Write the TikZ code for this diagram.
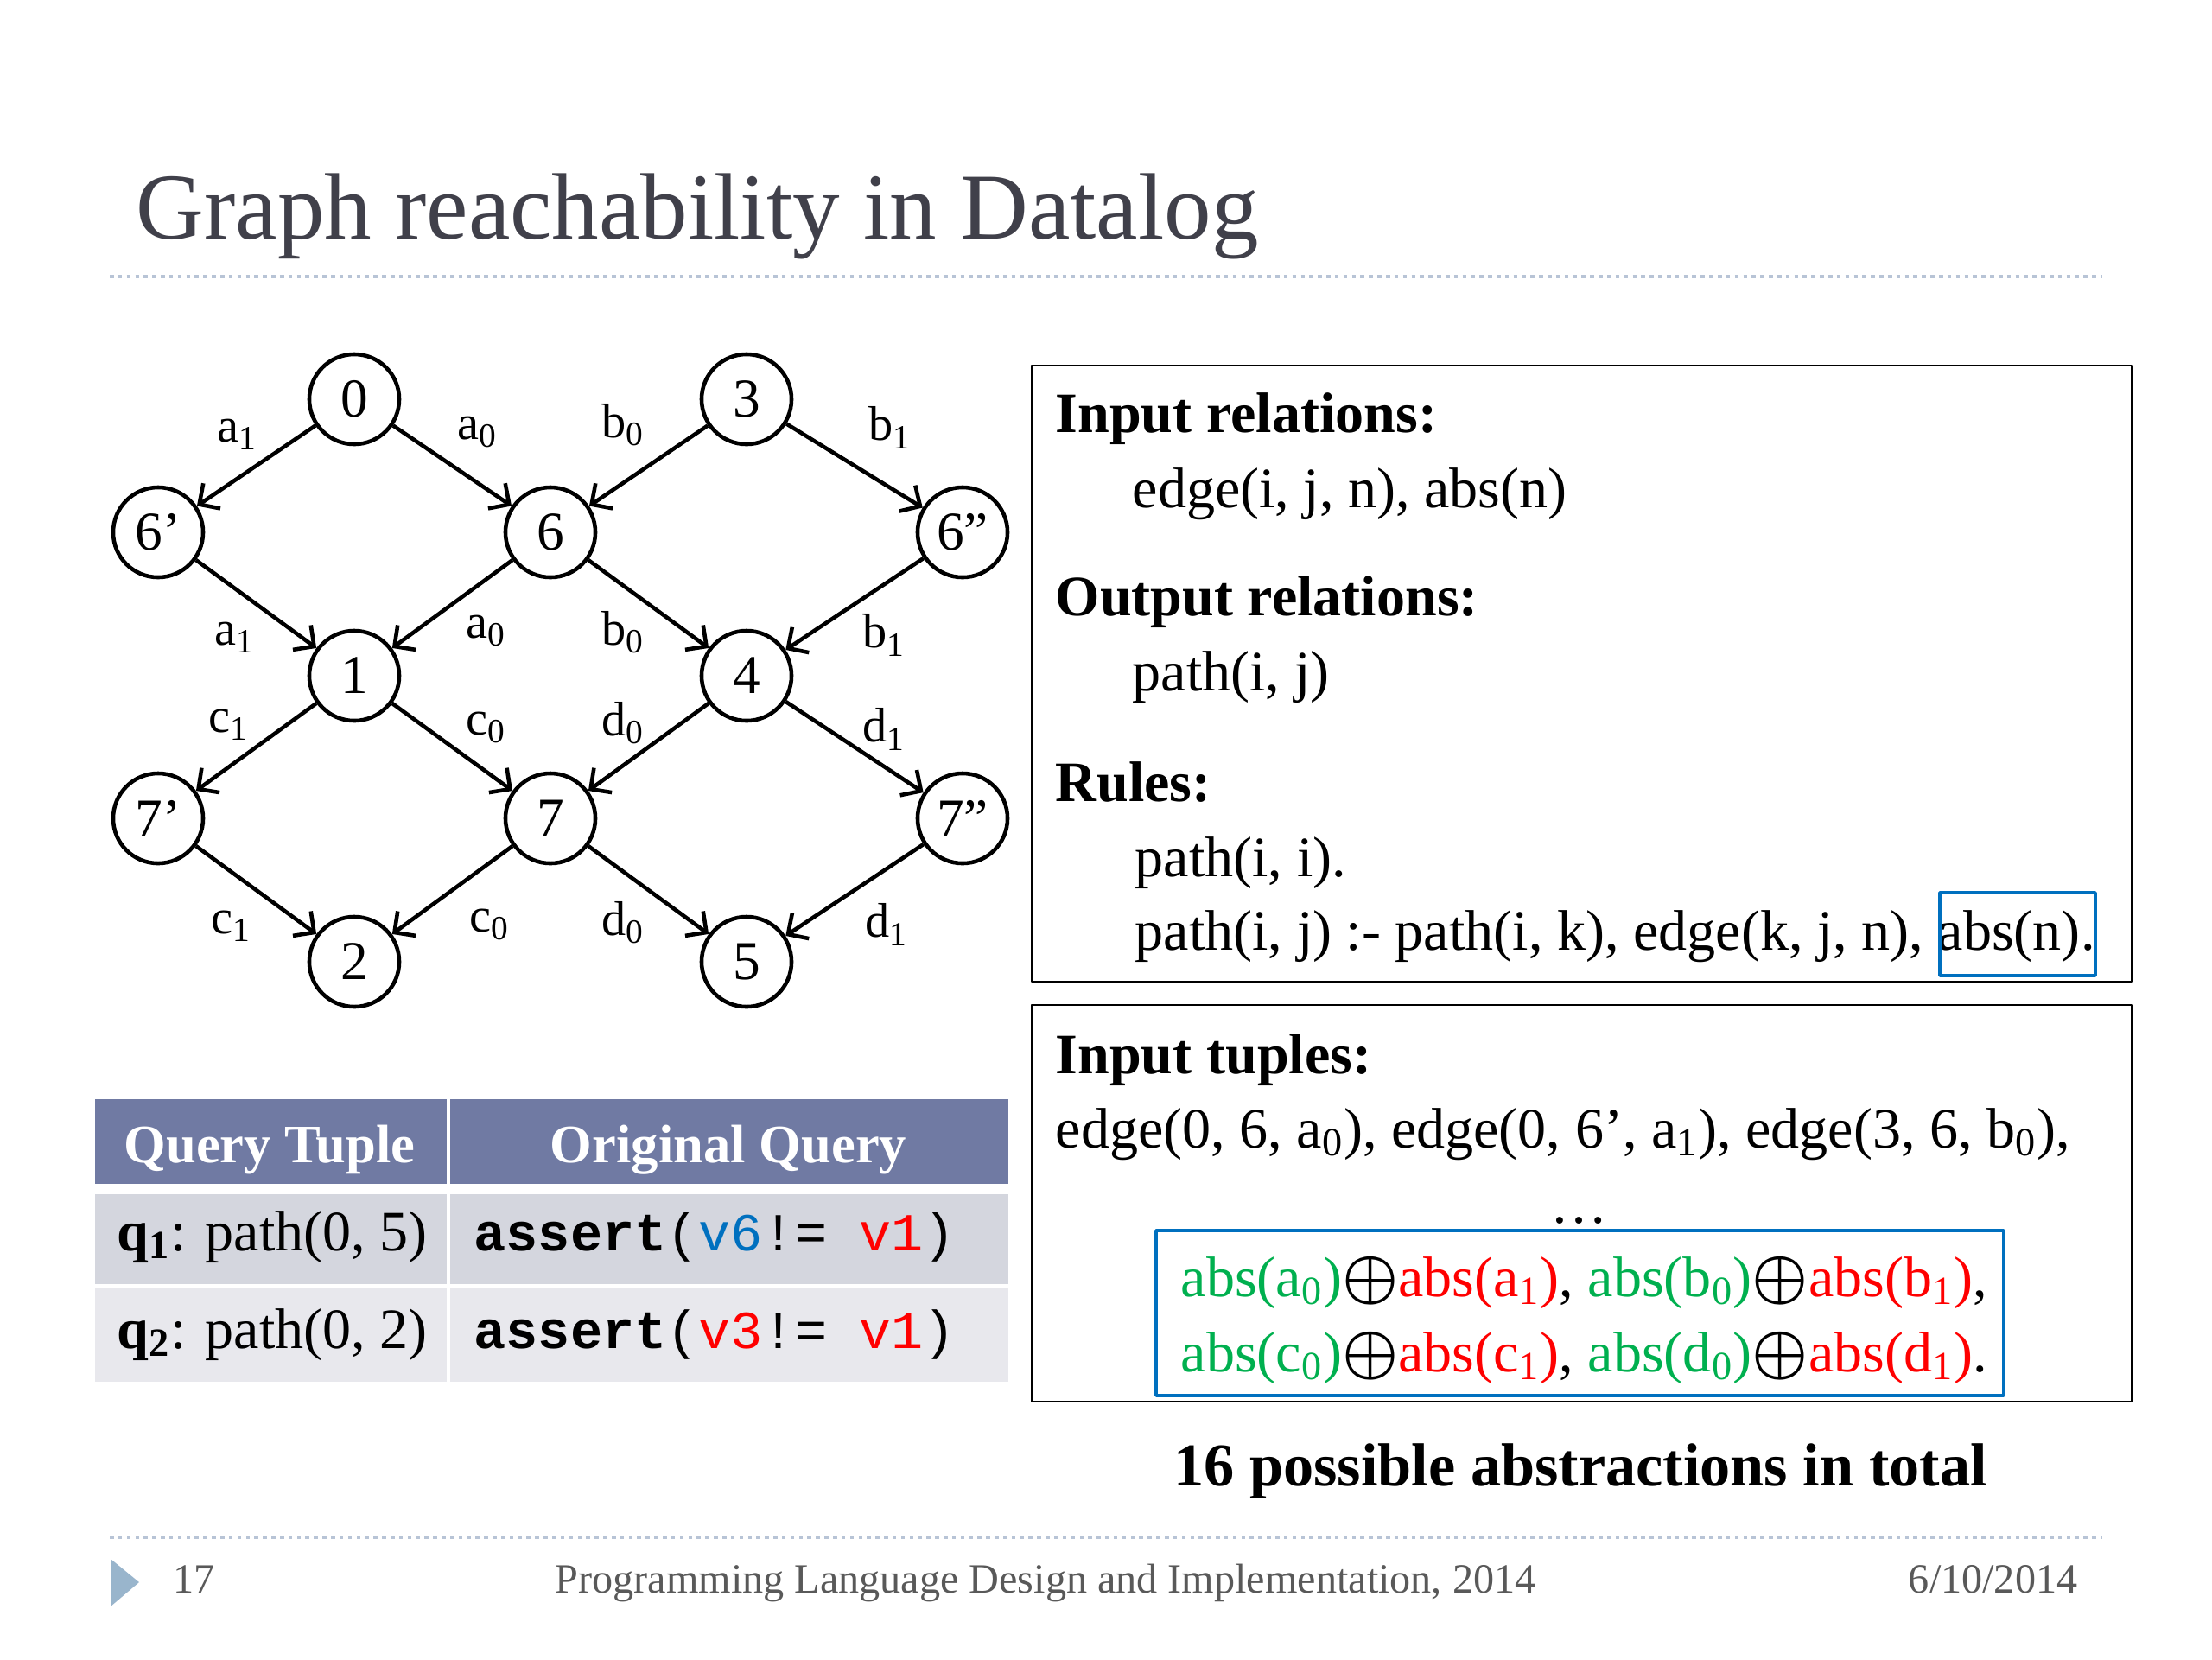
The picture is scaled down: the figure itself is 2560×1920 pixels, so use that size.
\documentclass[tikz,border=0pt]{standalone}
\usepackage{fontspec}
\setmainfont{Liberation Serif}
\setmonofont{Liberation Mono}
\usetikzlibrary{arrows.meta}

\definecolor{titlegray}{rgb}{0.25,0.25,0.29}
\definecolor{dotblue}{rgb}{0.72,0.77,0.84}
\definecolor{headblue}{rgb}{0.44,0.48,0.64}
\definecolor{rowone}{rgb}{0.83,0.84,0.87}
\definecolor{rowtwo}{rgb}{0.91,0.91,0.93}
\definecolor{absgreen}{rgb}{0.0,0.69,0.31}
\definecolor{absred}{rgb}{1.0,0.0,0.0}
\definecolor{boxblue}{rgb}{0.0,0.44,0.75}
\definecolor{footgray}{rgb}{0.35,0.35,0.35}
\definecolor{tribl}{rgb}{0.6,0.71,0.8}

\newcommand{\ssub}[1]{\textsubscript{#1}}
\newcommand{\gabs}[2]{\textcolor{absgreen}{abs(#1\ssub{#2})}}
\newcommand{\rabs}[2]{\textcolor{absred}{abs(#1\ssub{#2})}}
\newcommand{\xor}{{\fontsize{21.5}{22}\selectfont\boldmath$\oplus$}}

\tikzset{
  vertex/.style={circle,draw,line width=1.3pt,minimum size=1.04cm,inner sep=0pt,
    font=\fontsize{18}{20}\selectfont},
  elabel/.style={inner sep=0pt,font=\fontsize{16}{18}\selectfont},
  arc/.style={->,line width=1.3pt},
  txt/.style={anchor=base west,inner sep=0pt,font=\fontsize{18.8}{22}\selectfont},
  hdr/.style={txt,font=\fontsize{18.8}{22}\selectfont\bfseries},
  codetxt/.style={anchor=base west,inner sep=0pt,font=\fontsize{17.6}{20}\selectfont\ttfamily},
  headtxt/.style={anchor=base,inner sep=0pt,text=white,font=\fontsize{17.8}{20}\selectfont\bfseries},
  foot/.style={inner sep=0pt,text=footgray,font=\fontsize{13.7}{16}\selectfont},
  dotline/.style={dotblue,line width=1.4pt,dash pattern=on 1.3pt off 1.5pt},
  frame/.style={draw,line width=0.8pt},
  absbox/.style={draw=boxblue,line width=1.4pt},
}

\begin{document}
\begin{tikzpicture}[x=0.01cm,y=-0.01cm,>={Straight Barb[length=5pt,width=10pt]},line join=bevel]
  \fill[white] (0,0) rectangle (2560,1920);
%%
  % Title
  \node[anchor=base west,inner sep=0pt,text=titlegray,font=\fontsize{31}{36}\selectfont]
    (title) at (157,276) {Graph reachability in Datalog};
  \draw[dotline] (127,320) -- (2433,320);
%%
  % Nodes
  \node[vertex] (n0) at (410,462) {0};
  \node[vertex] (n3) at (864,462) {3};
  \node[vertex] (n6a) at (183,616) {6’};
  \node[vertex] (n6) at (637,616) {6};
  \node[vertex] (n6b) at (1114,616) {6”};
  \node[vertex] (n1) at (410,782) {1};
  \node[vertex] (n4) at (864,782) {4};
  \node[vertex] (n7a) at (183,947) {7’};
  \node[vertex] (n7) at (637,947) {7};
  \node[vertex] (n7b) at (1114,947) {7”};
  \node[vertex] (n2) at (410,1113) {2};
  \node[vertex] (n5) at (864,1113) {5};
  % Edges
  \draw[arc] (n0) -- (n6a);
  \draw[arc] (n0) -- (n6);
  \draw[arc] (n3) -- (n6);
  \draw[arc] (n3) -- (n6b);
  \draw[arc] (n6a) -- (n1);
  \draw[arc] (n6) -- (n1);
  \draw[arc] (n6) -- (n4);
  \draw[arc] (n6b) -- (n4);
  \draw[arc] (n1) -- (n7a);
  \draw[arc] (n1) -- (n7);
  \draw[arc] (n4) -- (n7);
  \draw[arc] (n4) -- (n7b);
  \draw[arc] (n7a) -- (n2);
  \draw[arc] (n7) -- (n2);
  \draw[arc] (n7) -- (n5);
  \draw[arc] (n7b) -- (n5);
  % Edge labels
  \node[elabel] (la1) at (275,503) {a\ssub{1}};
  \node[elabel] (la0) at (553,500) {a\ssub{0}};
  \node[elabel] (lb0) at (721,492) {b\ssub{0}};
  \node[elabel] (lb1) at (1030,495) {b\ssub{1}};
  \node[elabel] (la1b) at (272,738) {a\ssub{1}};
  \node[elabel] (la0b) at (563,730) {a\ssub{0}};
  \node[elabel] (lb0b) at (721,732) {b\ssub{0}};
  \node[elabel] (lb1b) at (1023,735) {b\ssub{1}};
  \node[elabel] (lc1) at (265,839) {c\ssub{1}};
  \node[elabel] (lc0) at (563,842) {c\ssub{0}};
  \node[elabel] (ld0) at (721,837) {d\ssub{0}};
  \node[elabel] (ld1) at (1023,844) {d\ssub{1}};
  \node[elabel] (lc1b) at (268,1072) {c\ssub{1}};
  \node[elabel] (lc0b) at (567,1070) {c\ssub{0}};
  \node[elabel] (ld0b) at (721,1068) {d\ssub{0}};
  \node[elabel] (ld1b) at (1026,1070) {d\ssub{1}};
%%
  % Query table
  \fill[headblue] (110,1272) rectangle (517,1370);
  \fill[headblue] (521,1272) rectangle (1167,1370);
  \fill[rowone] (110,1382) rectangle (517,1486);
  \fill[rowone] (521,1382) rectangle (1167,1486);
  \fill[rowtwo] (110,1491) rectangle (517,1599);
  \fill[rowtwo] (521,1491) rectangle (1167,1599);
  \node[headtxt] (qhead) at (312,1345) {Query Tuple};
  \node[headtxt] (ohead) at (843,1345) {Original Query};
  \node[txt] (q1) at (135,1447) {\textbf{q\ssub{1}}: path(0, 5)};
  \node[txt] (q2) at (135,1560) {\textbf{q\ssub{2}}: path(0, 2)};
  \node[codetxt] (qa1) at (548,1447)
    {\textbf{assert}(\textcolor{boxblue}{v6}!= \textcolor{absred}{v1})};
  \node[codetxt] (qa2) at (548,1560)
    {\textbf{assert}(\textcolor{absred}{v3}!= \textcolor{absred}{v1})};
%%
  % Relations box
  \draw[frame] (1194,423) rectangle (2467,1136);
  \node[hdr] (inrel) at (1221,500) {Input relations:};
  \node[txt] (inreltxt) at (1310,587) {edge(i, j, n), abs(n)};
  \node[hdr] (outrel) at (1221,712) {Output relations:};
  \node[txt] (outreltxt) at (1310,799) {path(i, j)};
  \node[hdr] (rules) at (1221,927) {Rules:};
  \node[txt] (rule1) at (1313,1014) {path(i, i).};
  \node[txt] (rule2) at (1313,1099) {path(i, j) :- path(i, k), edge(k, j, n), abs(n).};
  \draw[absbox] (2245,1033) rectangle (2425,1129);
%%
  % Tuples box
  \draw[frame] (1194,1163) rectangle (2467,1622);
  \node[hdr] (intup) at (1221,1242) {Input tuples:};
  \node[txt] (intuptxt) at (1221,1328)
    {edge(0, 6, a\ssub{0}), edge(0, 6’, a\ssub{1}), edge(3, 6, b\ssub{0}),};
  \node[txt,anchor=base] (dots) at (1828,1415) {…};
  \draw[absbox] (1338,1424) rectangle (2319,1615);
  \node[txt] (abs1) at (1366,1500)
    {\gabs{a}{0}\xor\rabs{a}{1}, \gabs{b}{0}\xor\rabs{b}{1},};
  \node[txt] (abs2) at (1366,1587)
    {\gabs{c}{0}\xor\rabs{c}{1}, \gabs{d}{0}\xor\rabs{d}{1}.};
  \node[anchor=base,inner sep=0pt,font=\fontsize{20}{24}\selectfont\bfseries]
    (total) at (1829,1719) {16 possible abstractions in total};
%%
  % Footer
  \draw[dotline] (127,1779) -- (2433,1779);
  \fill[tribl] (128,1804) -- (161,1831) -- (128,1859) -- cycle;
  \node[foot,anchor=base west] (pagenum) at (200,1843) {17};
  \node[foot,anchor=base] (conf) at (1210,1843) {Programming Language Design and Implementation, 2014};
  \node[foot,anchor=base east] (date) at (2405,1843) {6/10/2014};
%
\end{tikzpicture}
\end{document}
